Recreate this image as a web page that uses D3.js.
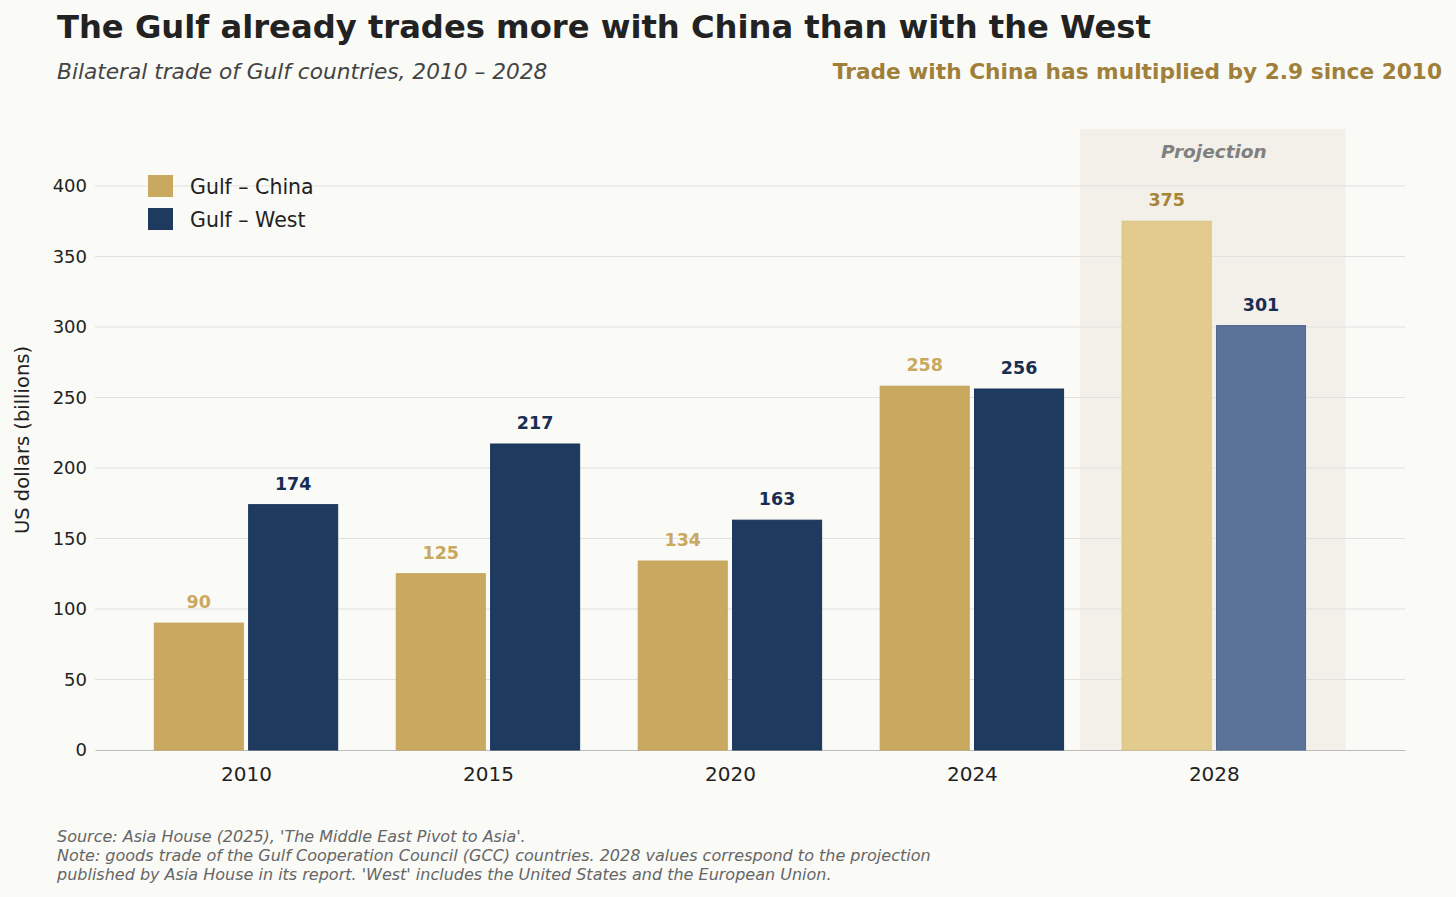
<!DOCTYPE html>
<html><head><meta charset="utf-8">
<script src="https://cdn.jsdelivr.net/npm/d3@7"></script>
<style>
html,body{margin:0;padding:0;background:#FAFAF7;}
svg{display:block;font-family:"DejaVu Sans",sans-serif;}
</style></head>
<body>
<svg id="chart" width="1456" height="897"></svg>
<script>
const years = ["2010","2015","2020","2024","2028"];
const china = [90,125,134,258,375];
const west = [174,217,163,256,301];
const yTicks = [0,50,100,150,200,250,300,350,400];
const projected = [false,false,false,false,true];

const svg = d3.select("#chart");
svg.append("rect").attr("width",1456).attr("height",897).attr("fill","#FAFAF7");

const x = d3.scaleLinear().domain([-0.624,4.79]).range([95,1405]);
const y = d3.scaleLinear().domain([0,440.4]).range([750,129]);
const bw = 0.368, off = 0.195;

// projection band
svg.append("rect").attr("x",x(3.446)).attr("y",y(440.4)).attr("width",x(4.545)-x(3.446))
  .attr("height",y(0)-y(440.4)).attr("fill","#F3F0EA");
svg.append("text").attr("x",x(4)).attr("y",158).attr("text-anchor","middle")
  .attr("font-size",18.5).attr("font-weight","bold").attr("font-style","italic").attr("fill","#808080")
  .text("Projection");

// grid
svg.append("g").selectAll("line").data(yTicks.filter(d=>d>0)).join("line")
  .attr("x1",95).attr("x2",1405).attr("y1",d=>y(d)).attr("y2",d=>y(d))
  .attr("stroke","#E0E0E0").attr("stroke-width",1);

// y axis
const yAxis = d3.axisLeft(y).tickValues(yTicks).tickSize(0).tickPadding(8);
const gy = svg.append("g").attr("transform","translate(95,0)").call(yAxis);
gy.select(".domain").remove();
gy.selectAll("text").attr("font-size",18).attr("fill","#222").attr("font-family","DejaVu Sans");

// x axis
const xAxis = d3.axisBottom(x).tickValues(d3.range(years.length)).tickFormat(i=>years[i]).tickSize(0).tickPadding(17);
const gx = svg.append("g").attr("transform","translate(0,750)").call(xAxis);
gx.select(".domain").attr("stroke","#BBBBBB").attr("stroke-width",1.2);
gx.selectAll("text").attr("font-size",20).attr("fill","#222").attr("font-family","DejaVu Sans");

const cChina = "#C9A860", cWest = "#1F3A5F", cChinaP = "#E3CB8D", cWestP = "#5B7299";

const data = years.map((yr,i)=>({i, china:china[i], west:west[i], p:projected[i]}));
const g = svg.append("g");
g.selectAll(".bc").data(data).join("rect")
  .attr("x",d=>x(d.i-off-bw/2)).attr("width",x(bw)-x(0))
  .attr("y",d=>y(d.china)).attr("height",d=>y(0)-y(d.china))
  .attr("fill",d=>d.p?cChinaP:cChina).attr("stroke",d=>d.p?"#DCC383":"#C4A35A").attr("stroke-width",1);
g.selectAll(".bw").data(data).join("rect")
  .attr("x",d=>x(d.i+off-bw/2)).attr("width",x(bw)-x(0))
  .attr("y",d=>y(d.west)).attr("height",d=>y(0)-y(d.west))
  .attr("fill",d=>d.p?cWestP:cWest).attr("stroke",d=>d.p?"#4E6890":"#18335A").attr("stroke-width",1);

// value labels
g.selectAll(".lc").data(data).join("text")
  .attr("x",d=>x(d.i-off)).attr("y",d=>y(d.china)-15).attr("text-anchor","middle")
  .attr("font-size",17.5).attr("font-weight","bold").attr("fill",d=>d.p?"#A68538":cChina)
  .text(d=>d.china);
g.selectAll(".lw").data(data).join("text")
  .attr("x",d=>x(d.i+off)).attr("y",d=>y(d.west)-15).attr("text-anchor","middle")
  .attr("font-size",17.5).attr("font-weight","bold").attr("fill","#172E52")
  .text(d=>d.west);

// legend
const leg = [["Gulf – China",cChina],["Gulf – West",cWest]];
leg.forEach((l,k)=>{
  svg.append("rect").attr("x",148).attr("y",175+k*33).attr("width",25).attr("height",22).attr("fill",l[1]);
  svg.append("text").attr("x",190).attr("y",193.5+k*33).attr("font-size",20.5).attr("fill","#222").text(l[0]);
});

// y label
svg.append("text").attr("transform","translate(29,440) rotate(-90)").attr("text-anchor","middle")
  .attr("font-size",19.5).attr("fill","#222").text("US dollars (billions)");

// titles
svg.append("text").attr("x",57).attr("y",38).attr("font-size",32.2).attr("font-weight","bold").attr("fill","#222")
  .text("The Gulf already trades more with China than with the West");
svg.append("text").attr("x",57).attr("y",79).attr("font-size",21.7).attr("font-style","italic").attr("fill","#444")
  .text("Bilateral trade of Gulf countries, 2010 – 2028");
svg.append("text").attr("x",1442).attr("y",79).attr("text-anchor","end").attr("font-size",21.7).attr("font-weight","bold").attr("fill","#A07F3A")
  .text("Trade with China has multiplied by 2.9 since 2010");

// footnotes
const notes = ["Source: Asia House (2025), 'The Middle East Pivot to Asia'.",
 "Note: goods trade of the Gulf Cooperation Council (GCC) countries. 2028 values correspond to the projection",
 "published by Asia House in its report. 'West' includes the United States and the European Union."];
notes.forEach((n,k)=>{
  svg.append("text").attr("x",57).attr("y",842+k*18.8).attr("font-size",16).attr("font-style","italic").attr("fill","#666").text(n);
});
</script>
</body></html>
